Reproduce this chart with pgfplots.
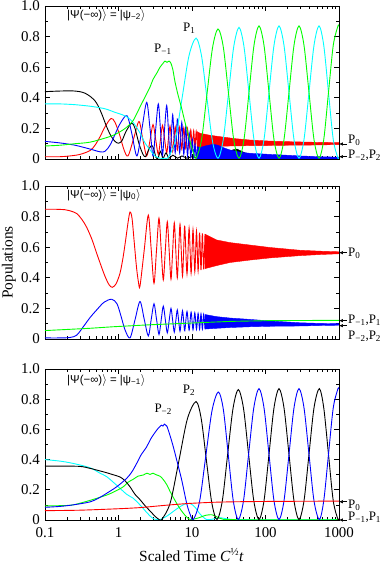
\documentclass[border=0pt]{standalone}
\usepackage{fontspec}
\setmainfont{Liberation Serif}
\setsansfont{Liberation Sans}
\usepackage{pgfplots}
\pgfplotsset{compat=1.18}
\usetikzlibrary{arrows.meta}

\definecolor{pred}{RGB}{255,0,0}
\definecolor{pgreen}{RGB}{0,255,0}
\definecolor{pblue}{RGB}{0,0,255}
\definecolor{pcyan}{RGB}{0,255,255}

% arrow at the right edge + label
\newcommand{\rarrow}[3]{%
  \draw[-{Latex[length=4bp,width=3.5bp]}, line width=0.6bp] ([xshift=8bp]rel axis cs:1,#1) -- (rel axis cs:1,#1);
  \node[anchor=west, inner sep=0pt, font=\fontsize{13}{13}\selectfont] at ([xshift=9bp]rel axis cs:1,#2) {#3};}

\begin{document}
\begin{tikzpicture}
\useasboundingbox (-45bp,-49bp) rectangle (337bp,520bp);

% ================= top: start in psi_-2 =================
\begin{axis}[at={(0,361bp)}, anchor=south west, scale only axis, width=294bp, height=153bp,
  xmode=log, xmin=0.1, xmax=1000, ymin=0, ymax=1,
  xtick={0.1,1,10,100,1000}, xticklabels={},
  minor xtick={0.2,0.3,0.4,0.5,0.6,0.7,0.8,0.9,2,3,4,5,6,7,8,9,20,30,40,50,60,70,80,90,200,300,400,500,600,700,800,900},
  ytick={0,0.2,0.4,0.6,0.8,1}, yticklabels={0,0.2,0.4,0.6,0.8,1.0},
  minor ytick={0.1,0.3,0.5,0.7,0.9},
  tick align=inside, major tick length=5bp, minor tick length=3bp,
  axis line style={line width=0.8bp}, every tick/.style={black, line width=0.6bp},
  tick label style={font=\fontsize{15}{15}\selectfont, inner sep=1bp},
  yticklabel style={xshift=-4bp, inner ysep=0pt},
  clip mode=individual]
% P0
\addplot[pred, line width=0.9bp, smooth] coordinates {(0.1,0.015) (0.16,0.015) (0.219,0.02) (0.299,0.03) (0.41,0.055) (0.479,0.09) (0.56,0.145) (0.655,0.21) (0.791,0.265) (0.896,0.24) (1.048,0.15) (1.188,0.06) (1.347,0.02) (1.60,0.13) (1.90,0.245) (2.14,0.13) (2.42,0.02) (2.68,0.12) (2.95,0.225) (3.20,0.13) (3.48,0.03) (3.72,0.125) (3.97,0.22) (4.24,0.13) (4.53,0.04) (4.77,0.128) (5.02,0.215) (5.24,0.13) (5.46,0.05) (5.68,0.13) (5.91,0.21) (6.12,0.135) (6.35,0.06) (6.80,0.21) (7.265,0.065) (7.735,0.205) (8.21,0.07) (8.687,0.2) (9.159,0.072) (9.632,0.19) (10.09,0.075) (10.55,0.185) (10.98,0.075) (11.41,0.18) (11.84,0.075)};
\addplot[pred, fill=pred, line width=0.4bp] coordinates {(11.84,0.178) (12.85,0.168) (17.6,0.155) (24.0,0.146) (38.5,0.133) (61.5,0.124) (115,0.117) (215,0.113) (403,0.11) (1000,0.107) (1000,0.094) (403,0.091) (215,0.09) (115,0.088) (61.5,0.087) (32.9,0.085) (17.6,0.08) (11.84,0.075)} -- cycle;
% black
\addplot[black, line width=0.9bp, smooth] coordinates {(0.1,0.44) (0.137,0.443) (0.187,0.445) (0.24,0.445) (0.299,0.44) (0.35,0.43) (0.41,0.41) (0.479,0.38) (0.531,0.345) (0.597,0.29) (0.691,0.21) (0.791,0.15) (0.896,0.115) (1.0,0.103) (1.116,0.12) (1.265,0.18) (1.512,0.235) (1.677,0.2) (1.90,0.1) (2.154,0.03) (2.33,0.015) (2.52,0.05) (2.829,0.09) (3.041,0.06) (3.237,0.01) (3.446,0.005) (3.728,0.05) (4.03,0.005) (4.429,0.04) (4.865,0.005) (5.5,0.025) (6.35,0.005) (7.3,0.02) (8.5,0.005) (10,0.015) (12,0.005) (15,0.01) (20,0.005)};
\addplot[black, fill=black, line width=0.4bp] coordinates {(20,0.005) (26.4,0.025) (30.9,0.045) (36.1,0.06) (40.95,0.065) (45,0.055) (52.6,0.04) (61.5,0.032) (72,0.025) (84,0.015) (100,0.02) (130,0.012) (173,0.015) (215,0.008) (300,0.006) (1000,0.005)} \closedcycle;
% blue
\addplot[pblue, line width=0.9bp, smooth] coordinates {(0.1,0.115) (0.16,0.105) (0.256,0.09) (0.41,0.065) (0.56,0.047) (0.655,0.05) (0.766,0.09) (0.896,0.16) (1.048,0.23) (1.305,0.283) (1.527,0.16) (1.785,0.02) (2.088,0.2) (2.419,0.37) (2.683,0.2) (2.947,0.02) (3.187,0.18) (3.479,0.36) (3.728,0.19) (3.968,0.025) (4.225,0.19) (4.527,0.35) (4.789,0.18) (5.019,0.03) (5.245,0.16) (5.462,0.29) (5.688,0.16) (5.906,0.04) (6.134,0.15) (6.349,0.26) (6.80,0.04) (7.265,0.24) (7.735,0.03) (8.21,0.21) (8.687,0.02) (9.159,0.17) (9.632,0.01) (10.09,0.13) (10.55,0.005) (10.98,0.1) (11.41,0.005) (11.84,0.08)};
\addplot[pblue, fill=pblue, line width=0.4bp] coordinates {(11.84,0.08) (12.85,0.075) (15.03,0.085) (17.58,0.092) (19.49,0.096) (22.58,0.09) (28.12,0.07) (32.89,0.059) (44.99,0.045) (61.52,0.037) (84.16,0.034) (115,0.03) (173,0.026) (294.7,0.02) (551.5,0.015) (1000,0.012)} \closedcycle;
% cyan
\addplot[pcyan, line width=0.9bp, smooth] coordinates {(0.1,0.36) (0.16,0.36) (0.256,0.355) (0.41,0.345) (0.56,0.335) (0.691,0.325) (0.896,0.305) (1.116,0.29) (1.305,0.275) (1.575,0.24) (1.961,0.17) (2.294,0.105) (2.683,0.06) (3.138,0.02) (3.67,0.005) (4.292,0.005) (4.715,0.008) (5.869,0.115) (7.312,0.395) (9.104,0.675) (11.34,0.79) (13.47,0.675) (16.0,0.395) (19.01,0.115) (22.58,0.005) (26.62,0.126) (31.38,0.43) (36.98,0.734) (43.6,0.86) (50.98,0.734) (59.64,0.43) (69.74,0.126) (81.56,0.005) (95.42,0.127) (111.6,0.435) (130.5,0.743) (152.7,0.87) (178.5,0.743) (208.8,0.435) (244.2,0.127) (285.6,0.005) (334.1,0.127) (390.7,0.435) (457,0.743) (534.6,0.87) (620.2,0.743) (719.6,0.435) (835.4,0.127) (969.1,0.005) (1000,0.01)};
% green
\addplot[pgreen, line width=0.9bp, smooth] coordinates {(0.1,0.085) (0.16,0.09) (0.256,0.1) (0.41,0.11) (0.691,0.14) (0.896,0.16) (1.151,0.19) (1.347,0.215) (1.575,0.25) (1.785,0.3) (1.961,0.34) (2.294,0.405) (2.683,0.47) (2.947,0.52) (3.309,0.56) (3.67,0.6) (4.03,0.625) (4.292,0.64) (4.569,0.632) (4.865,0.64) (5.177,0.625) (5.513,0.58) (5.869,0.505) (6.45,0.42) (7.244,0.33) (8.031,0.24) (8.906,0.16) (9.691,0.09) (10.32,0.05) (11.34,0.005) (13.47,0.124) (16.0,0.425) (19.01,0.726) (22.58,0.85) (26.62,0.734) (31.38,0.43) (36.98,0.126) (43.6,0.005) (50.98,0.127) (59.64,0.435) (69.74,0.743) (81.56,0.87) (95.42,0.743) (111.6,0.435) (130.5,0.127) (152.7,0.005) (178.5,0.127) (208.8,0.435) (244.2,0.743) (285.6,0.87) (334.1,0.743) (390.7,0.435) (457,0.127) (534.6,0.005) (620.2,0.127) (719.6,0.435) (835.4,0.743) (969.1,0.87) (1000,0.868)};
\node[anchor=west, inner sep=0pt, font=\sffamily\fontsize{11.5}{12}\selectfont] at (rel axis cs:0.075,0.941) {|Ψ(−∞)$\rangle$ = |ψ\textsubscript{−2}$\rangle$};
\node[anchor=base west, inner sep=0pt, font=\fontsize{13}{13}\selectfont] at (axis cs:3.04,0.693) {P\textsubscript{−1}};
\node[anchor=base west, inner sep=0pt, font=\fontsize{13}{13}\selectfont] at (axis cs:7.54,0.832) {P\textsubscript{1}};
\rarrow{0.098}{0.125}{P\textsubscript{0}}
\rarrow{0.015}{0.025}{P\textsubscript{−2},P\textsubscript{2}}
\end{axis}

% ================= middle: start in psi_0 =================
\begin{axis}[at={(0,181bp)}, anchor=south west, scale only axis, width=294bp, height=153bp,
  xmode=log, xmin=0.1, xmax=1000, ymin=0, ymax=1,
  xtick={0.1,1,10,100,1000}, xticklabels={},
  minor xtick={0.2,0.3,0.4,0.5,0.6,0.7,0.8,0.9,2,3,4,5,6,7,8,9,20,30,40,50,60,70,80,90,200,300,400,500,600,700,800,900},
  ytick={0,0.2,0.4,0.6,0.8,1}, yticklabels={0,0.2,0.4,0.6,0.8,1.0},
  minor ytick={0.1,0.3,0.5,0.7,0.9},
  tick align=inside, major tick length=5bp, minor tick length=3bp,
  axis line style={line width=0.8bp}, every tick/.style={black, line width=0.6bp},
  tick label style={font=\fontsize{15}{15}\selectfont, inner sep=1bp},
  yticklabel style={xshift=-4bp, inner ysep=0pt},
  clip mode=individual]
\addplot[pred, line width=0.9bp, smooth] coordinates {(0.1,0.848) (0.137,0.848) (0.187,0.845) (0.219,0.838) (0.27,0.82) (0.319,0.78) (0.369,0.73) (0.436,0.65) (0.505,0.56) (0.578,0.48) (0.655,0.41) (0.743,0.355) (0.823,0.338) (0.925,0.36) (1.048,0.43) (1.151,0.53) (1.245,0.64) (1.347,0.76) (1.434,0.83) (1.527,0.79) (1.625,0.65) (1.757,0.47) (1.871,0.37) (1.961,0.346) (2.237,0.58) (2.544,0.81) (2.781,0.59) (3.041,0.364) (3.289,0.58) (3.556,0.79) (3.804,0.59) (4.069,0.386) (4.332,0.577) (4.612,0.767) (4.888,0.58) (5.177,0.39) (5.455,0.575) (5.742,0.76) (6.019,0.58) (6.31,0.40) (6.583,0.575) (6.868,0.75) (7.141,0.58) (7.427,0.41) (7.7,0.575) (7.98,0.735) (8.551,0.425) (9.13,0.725) (9.722,0.43) (10.32,0.715) (10.92,0.44) (11.51,0.705) (12.11,0.445) (12.69,0.695) (13.26,0.45) (13.85,0.69) (14.43,0.455) (15.03,0.685)};
\addplot[pred, fill=pred, line width=0.4bp] coordinates {(15.03,0.685) (21.68,0.647) (32.89,0.63) (61.52,0.614) (115.1,0.598) (294.7,0.58) (551.5,0.574) (1000,0.57) (1000,0.557) (551.5,0.552) (294.7,0.545) (115.1,0.53) (61.52,0.516) (32.89,0.50) (21.68,0.48) (15.03,0.46)} -- cycle;
\addplot[pblue, line width=0.9bp, smooth] coordinates {(0.1,0.007) (0.16,0.007) (0.219,0.01) (0.27,0.025) (0.332,0.08) (0.41,0.14) (0.505,0.19) (0.635,0.24) (0.808,0.26) (0.954,0.23) (1.081,0.15) (1.226,0.06) (1.434,0.007) (1.677,0.125) (1.961,0.245) (2.237,0.13) (2.544,0.02) (2.781,0.125) (3.041,0.23) (3.289,0.13) (3.556,0.03) (3.804,0.122) (4.069,0.215) (4.332,0.128) (4.612,0.04) (4.888,0.12) (5.177,0.2) (5.455,0.122) (5.742,0.045) (6.019,0.118) (6.31,0.19) (6.583,0.12) (6.868,0.05) (7.141,0.117) (7.427,0.185) (7.7,0.12) (7.98,0.055) (8.551,0.18) (9.13,0.058) (9.722,0.175) (10.32,0.06) (10.92,0.172) (11.51,0.062) (12.11,0.168) (12.69,0.063) (13.26,0.165) (13.85,0.064) (14.43,0.162) (15.03,0.065)};
\addplot[pblue, fill=pblue, line width=0.4bp] coordinates {(15.03,0.16) (21.68,0.146) (32.89,0.137) (61.52,0.128) (115.1,0.118) (294.7,0.106) (551.5,0.102) (1000,0.1) (1000,0.09) (551.5,0.088) (294.7,0.085) (115.1,0.083) (61.52,0.08) (32.89,0.075) (21.68,0.07) (15.03,0.065)} -- cycle;
\addplot[pgreen, line width=0.9bp] coordinates {(0.1,0.055) (0.41,0.07) (0.842,0.08) (2.683,0.093) (8.47,0.103) (32.89,0.115) (115,0.12) (1000,0.122)};
\node[anchor=west, inner sep=0pt, font=\sffamily\fontsize{11.5}{12}\selectfont] at (rel axis cs:0.075,0.941) {|Ψ(−∞)$\rangle$ = |ψ\textsubscript{0}$\rangle$};
\rarrow{0.564}{0.56}{P\textsubscript{0}}
\rarrow{0.12}{0.12}{P\textsubscript{−1},P\textsubscript{1}}
\rarrow{0.087}{0.015}{P\textsubscript{−2},P\textsubscript{2}}
\end{axis}

% ================= bottom: start in psi_-1 =================
\begin{axis}[at={(0,0)}, anchor=south west, scale only axis, width=294bp, height=151bp,
  xmode=log, xmin=0.1, xmax=1000, ymin=0, ymax=1,
  xtick={0.1,1,10,100,1000}, xticklabels={0.1,1,10,100,1000},
  minor xtick={0.2,0.3,0.4,0.5,0.6,0.7,0.8,0.9,2,3,4,5,6,7,8,9,20,30,40,50,60,70,80,90,200,300,400,500,600,700,800,900},
  ytick={0,0.2,0.4,0.6,0.8,1}, yticklabels={0,0.2,0.4,0.6,0.8,1.0},
  minor ytick={0.1,0.3,0.5,0.7,0.9},
  tick align=inside, major tick length=5bp, minor tick length=3bp,
  axis line style={line width=0.8bp}, every tick/.style={black, line width=0.6bp},
  tick label style={font=\fontsize{15}{15}\selectfont, inner sep=1bp},
  yticklabel style={xshift=-4bp, inner ysep=0pt},
  xticklabel style={yshift=-6.5bp},
  clip mode=individual]
\addplot[pcyan, line width=0.9bp, smooth] coordinates {(0.1,0.40) (0.16,0.39) (0.24,0.375) (0.41,0.346) (0.56,0.31) (0.691,0.287) (0.945,0.23) (1.293,0.17) (1.575,0.145) (1.961,0.1) (2.419,0.05) (2.856,0.015) (3.309,0.002) (3.67,0.003) (4.53,0.025) (5.5,0.055) (6.868,0.088) (8.0,0.105) (9.394,0.11) (10.98,0.085) (12.85,0.04) (15.85,0.003) (20,0.008) (24,0.015) (28,0.01) (36,0.003) (60,0.002) (1000,0.002)};
\addplot[pgreen, line width=0.9bp, smooth] coordinates {(0.1,0.093) (0.16,0.095) (0.24,0.1) (0.41,0.13) (0.691,0.165) (0.896,0.19) (1.162,0.22) (1.347,0.25) (1.59,0.27) (1.842,0.29) (2.175,0.298) (2.442,0.31) (2.683,0.302) (2.947,0.31) (3.237,0.3) (3.67,0.29) (4.03,0.27) (4.527,0.235) (5.019,0.19) (5.565,0.15) (6.192,0.11) (6.868,0.075) (7.615,0.045) (8.472,0.02) (9.541,0.003) (12.45,0.015) (15.03,0.03) (18.54,0.035) (21.89,0.02) (26.41,0.005) (38.46,0.002) (1000,0.002)};
\addplot[black, line width=0.9bp, smooth] coordinates {(0.1,0.357) (0.16,0.357) (0.299,0.355) (0.41,0.342) (0.56,0.325) (0.691,0.313) (0.842,0.3) (1.048,0.285) (1.226,0.26) (1.434,0.22) (1.677,0.17) (1.961,0.135) (2.294,0.095) (2.683,0.06) (3.138,0.025) (3.5,0.006) (3.87,0.002) (5.066,0.115) (6.635,0.392) (8.657,0.67) (11.34,0.784) (13.36,0.67) (15.75,0.39) (18.57,0.115) (21.89,0.003) (25.84,0.126) (30.51,0.432) (36.13,0.738) (42.66,0.864) (50.19,0.74) (58.9,0.435) (69.31,0.127) (81.56,0.003) (95.42,0.127) (111.6,0.435) (130.5,0.743) (152.7,0.87) (178.5,0.743) (208.8,0.435) (244.2,0.127) (285.6,0.003) (334.1,0.127) (390.7,0.435) (457,0.743) (539.6,0.87) (620.2,0.743) (719.6,0.435) (835.4,0.127) (969.1,0.003) (1000,0.008)};
\addplot[pblue, line width=0.9bp, smooth] coordinates {(0.1,0.084) (0.16,0.09) (0.24,0.1) (0.41,0.12) (0.56,0.15) (0.691,0.177) (0.945,0.22) (1.293,0.276) (1.527,0.32) (1.768,0.375) (2.023,0.43) (2.419,0.485) (2.768,0.54) (3.309,0.595) (3.67,0.62) (3.85,0.628) (4.03,0.622) (4.2,0.635) (4.4,0.628) (4.569,0.62) (5.019,0.56) (5.565,0.485) (6.25,0.39) (7.244,0.265) (8.472,0.11) (9.394,0.04) (10.42,0.003) (12.69,0.124) (15.41,0.424) (18.72,0.724) (22.79,0.848) (26.66,0.734) (31.18,0.43) (36.47,0.126) (42.66,0.003) (50.19,0.127) (58.9,0.435) (69.31,0.743) (81.56,0.87) (95.42,0.743) (111.6,0.435) (130.5,0.127) (152.7,0.003) (178.5,0.127) (208.8,0.435) (244.2,0.743) (285.6,0.87) (334.1,0.743) (390.7,0.435) (457,0.127) (539.6,0.003) (620.2,0.127) (719.6,0.435) (835.4,0.743) (969.1,0.87) (1000,0.868)};
\addplot[pred, line width=0.9bp, smooth] coordinates {(0.1,0.062) (0.299,0.065) (1.048,0.075) (1.961,0.082) (2.683,0.088) (5.019,0.1) (9.394,0.11) (21.68,0.118) (61.52,0.122) (294.7,0.124) (1000,0.125)};
\node[anchor=west, inner sep=0pt, font=\sffamily\fontsize{11.5}{12}\selectfont] at (rel axis cs:0.075,0.927) {|Ψ(−∞)$\rangle$ = |ψ\textsubscript{−1}$\rangle$};
\node[anchor=base west, inner sep=0pt, font=\fontsize{13}{13}\selectfont] at (axis cs:3.07,0.709) {P\textsubscript{−2}};
\node[anchor=base west, inner sep=0pt, font=\fontsize{13}{13}\selectfont] at (axis cs:7.47,0.839) {P\textsubscript{2}};
\rarrow{0.121}{0.1}{P\textsubscript{0}}
\rarrow{0.0}{0.015}{P\textsubscript{−1},P\textsubscript{1}}
\end{axis}

\node[rotate=90, font=\fontsize{15.5}{16}\selectfont] at (-36bp,257.5bp) {Populations};
\node[anchor=base, font=\fontsize{15.5}{16}\selectfont] at (146.5bp,-41bp) {Scaled Time \textit{C}\textsuperscript{½}\textit{t}};
\end{tikzpicture}
\end{document}
